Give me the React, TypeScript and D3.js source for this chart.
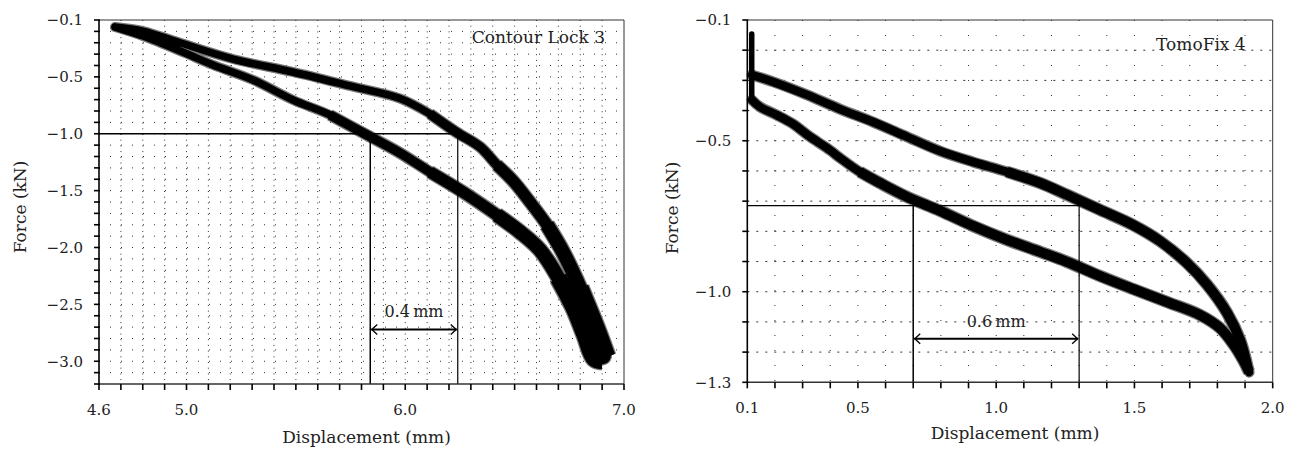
import React from "react";
import * as d3 from "d3";

// ---------- DATA ----------
// Contour Lock 3 (displacement mm, force kN)
const contourLowerBranch: [number, number][] = [
  [4.673, -0.062], [4.801, -0.141], [4.993, -0.29], [5.121, -0.395], [5.304, -0.527],
  [5.487, -0.703], [5.656, -0.835], [5.825, -1.011], [5.976, -1.169], [6.113, -1.336],
  [6.264, -1.512], [6.419, -1.714], [6.525, -1.864], [6.616, -2.022], [6.7, -2.268],
  [6.772, -2.532], [6.822, -2.769], [6.865, -2.975], [6.9, -2.995],
];
const contourUpperBranch: [number, number][] = [
  [4.673, -0.062], [4.801, -0.097], [4.97, -0.2], [5.213, -0.343], [5.485, -0.457],
  [5.747, -0.58], [5.976, -0.69], [6.113, -0.826], [6.232, -0.985], [6.342, -1.116],
  [6.419, -1.275], [6.493, -1.415], [6.57, -1.6], [6.648, -1.802], [6.721, -2.04],
  [6.799, -2.356], [6.877, -2.725], [6.922, -2.96],
];
// TomoFix 4
const tomoSpike: [number, number][] = [[0.116, -0.146], [0.116, -0.365]];
const tomoLowerBranch: [number, number][] = [
  [0.117, -0.365], [0.146, -0.388], [0.207, -0.415], [0.265, -0.444], [0.327, -0.487],
  [0.388, -0.524], [0.446, -0.564], [0.507, -0.603], [0.58, -0.64], [0.678, -0.686],
  [0.797, -0.732], [0.916, -0.782], [1.039, -0.828], [1.159, -0.868], [1.256, -0.901],
  [1.376, -0.948], [1.495, -0.991], [1.618, -1.034], [1.737, -1.077], [1.809, -1.12],
  [1.857, -1.173], [1.893, -1.226], [1.915, -1.266],
];
const tomoUpperBranch: [number, number][] = [
  [0.117, -0.282], [0.194, -0.305], [0.316, -0.348], [0.435, -0.395], [0.555, -0.438],
  [0.678, -0.487], [0.797, -0.534], [0.916, -0.57], [1.039, -0.603], [1.159, -0.64],
  [1.256, -0.679], [1.376, -0.729], [1.495, -0.779], [1.592, -0.832], [1.69, -0.905],
  [1.763, -0.977], [1.835, -1.07], [1.882, -1.16], [1.911, -1.259],
];

// Tick labels
const contourXTickLabels = [4.6, 5.0, 6.0, 7.0];
const contourYTickValues = [0, -0.5, -1.0, -1.5, -2.0, -2.5, -3.0];
const contourYTickLabels = ["−0.1", "−0.5", "−1.0", "−1.5", "−2.0", "−2.5", "−3.0"];
const tomoXTickLabels = [0.1, 0.5, 1.0, 1.5, 2.0];
const tomoYTickValues = [-0.1, -0.5, -1.0, -1.3];
const tomoYTickLabels = ["−0.1", "−0.5", "−1.0", "−1.3"];

// Reference markers
const contourRef = { force: -1.0, x1: 5.84, x2: 6.24, arrowY: -2.72, label: "0.4\u2009mm" };
const tomoRef = { force: -0.715, x1: 0.7, x2: 1.3, arrowY: -1.156, label: "0.6\u2009mm" };

const FONT = "DejaVu Serif";

type Pt = [number, number];

function Panel(props: {
  xDomain: [number, number]; xRange: [number, number];
  yDomain: [number, number]; yRange: [number, number];
  xMinor: number[]; yMinor: number[];
  xLabels: number[]; yValues: number[]; yLabels: string[];
  branches: Pt[][]; spike?: Pt[];
  bands: { below: number; width: number }[];
  ref: { force: number; x1: number; x2: number; arrowY: number; label: string };
  title: string; titleY: number; titleRight: number;
  xTitleY: number; yTitleX: number; yTitleY: number;
  vDash: string; hDash: string; tickOut: number;
}) {
  const p = props;
  const x = d3.scaleLinear().domain(p.xDomain).range(p.xRange);
  const y = d3.scaleLinear().domain(p.yDomain).range(p.yRange);
  const [L, R] = p.xRange;
  const [T, B] = p.yRange;
  const line = d3.line<Pt>().x(d => x(d[0])).y(d => y(d[1])).curve(d3.curveCatmullRom.alpha(0.5));
  const lin = d3.line<Pt>().x(d => x(d[0])).y(d => y(d[1]));
  const ay = y(p.ref.arrowY);
  const ax1 = x(p.ref.x1), ax2 = x(p.ref.x2);
  const ry = y(p.ref.force);
  const fmtX = (v: number) => v.toFixed(1);
  const loop: Pt[] = [...p.branches[0], ...p.branches[1].slice().reverse()];
  const bandPaths = (b: { below: number; width: number }, color: string, extra: number, key: string) => (
    <g key={key}>
      {p.branches.map((br, j) => {
        const sub = br.filter(d => d[1] <= b.below);
        return sub.length > 1 ? (
          <path key={j} d={line(sub) || ""} fill="none" stroke={color} strokeWidth={b.width + extra} strokeLinejoin="round" strokeLinecap="butt" />
        ) : null;
      })}
    </g>
  );
  return (
    <g>
      {/* grid */}
      {p.xMinor.slice(1, -1).map((v, i) => (
        <line key={"gv" + i} x1={x(v)} x2={x(v)} y1={T} y2={B} stroke="#333" strokeWidth={1} strokeDasharray={p.vDash} />
      ))}
      {p.yMinor.slice(1, -1).map((v, i) => (
        <line key={"gh" + i} x1={L} x2={R} y1={y(v)} y2={y(v)} stroke="#333" strokeWidth={1} strokeDasharray={p.hDash} />
      ))}
      {/* frame */}
      <line x1={L} x2={R} y1={T} y2={T} stroke="#333" strokeWidth={1} />
      <line x1={R} x2={R} y1={T} y2={B} stroke="#333" strokeWidth={1} />
      {/* curves: gray halo, then black core, widening bands */}
      <path d={line(loop) || ""} fill="none" stroke="#777" strokeWidth={p.bands[0].width + 2.5} strokeLinejoin="round" strokeLinecap="round" />
      {p.bands.slice(1).map((b, i) => bandPaths(b, "#777", 2.5, "halo" + i))}
      <path d={line(loop) || ""} fill="none" stroke="#000" strokeWidth={p.bands[0].width} strokeLinejoin="round" strokeLinecap="round" />
      {p.bands.slice(1).map((b, i) => bandPaths(b, "#000", 0, "core" + i))}
      {p.spike && (
        <path d={lin(p.spike) || ""} fill="none" stroke="#000" strokeWidth={5.5} strokeLinecap="round" />
      )}
      {/* reference lines */}
      <line x1={L} x2={ax2} y1={ry} y2={ry} stroke="#000" strokeWidth={1.3} />
      <line x1={ax1} x2={ax1} y1={ry} y2={B} stroke="#000" strokeWidth={1.5} />
      <line x1={ax2} x2={ax2} y1={ry} y2={B} stroke="#000" strokeWidth={1.2} />
      <line x1={ax1 + 1} x2={ax2 - 1} y1={ay} y2={ay} stroke="#000" strokeWidth={2} />
      <path d={`M${ax1 + 7},${ay - 5} L${ax1 + 1.5},${ay} L${ax1 + 7},${ay + 5}`} fill="none" stroke="#000" strokeWidth={1.3} />
      <path d={`M${ax2 - 7},${ay - 5} L${ax2 - 1.5},${ay} L${ax2 - 7},${ay + 5}`} fill="none" stroke="#000" strokeWidth={1.3} />
      <text x={(ax1 + ax2) / 2} y={ay - 12} textAnchor="middle" fontFamily={FONT} fontSize={16} fill="#222">{p.ref.label}</text>
      {/* axes */}
      <line x1={L} x2={L} y1={T} y2={B + 0.75} stroke="#000" strokeWidth={1.6} />
      <line x1={L - 0.75} x2={R} y1={B} y2={B} stroke="#333" strokeWidth={1.6} />
      {p.yMinor.map((v, i) => (
        <line key={"yt" + i} x1={L - p.tickOut} x2={L + 1} y1={y(v)} y2={y(v)} stroke="#000" strokeWidth={1.6} />
      ))}
      {p.xMinor.map((v, i) => (
        <line key={"xt" + i} x1={x(v)} x2={x(v)} y1={B} y2={B + p.tickOut + 1} stroke="#000" strokeWidth={1.6} />
      ))}
      {p.yValues.map((v, i) => (
        <text key={"yl" + i} x={L - 16} y={y(v)} dy="0.36em" textAnchor="end" fontFamily={FONT} fontSize={15} fill="#222">{p.yLabels[i]}</text>
      ))}
      {p.xLabels.map((v, i) => (
        <text key={"xl" + i} x={x(v)} y={B + 31} textAnchor="middle" fontFamily={FONT} fontSize={15} fill="#222">{fmtX(v)}</text>
      ))}
      <text x={R - p.titleRight} y={p.titleY} textAnchor="end" fontFamily={FONT} fontSize={17} fill="#222">{p.title}</text>
      <text x={(L + R) / 2 + 5} y={p.xTitleY} textAnchor="middle" fontFamily={FONT} fontSize={17} fill="#222">Displacement (mm)</text>
      <text transform={`translate(${p.yTitleX},${p.yTitleY}) rotate(-90)`} textAnchor="middle" fontFamily={FONT} fontSize={17} fill="#222">Force (kN)</text>
    </g>
  );
}

export default function App() {
  return (
    <svg width={1297} height={452} style={{ position: "absolute", left: 0, top: 0, background: "#fff" }}>
      <rect width={1297} height={452} fill="#fff" />
      <Panel
        xDomain={[4.6, 7.0]} xRange={[99, 624]}
        yDomain={[0, -3.2]} yRange={[20, 384]}
        xMinor={d3.range(0, 25).map(i => 4.6 + i * 0.1)}
        yMinor={d3.range(0, 33).map(i => -i * 0.1)}
        xLabels={contourXTickLabels} yValues={contourYTickValues} yLabels={contourYTickLabels}
        branches={[contourLowerBranch, contourUpperBranch]}
        bands={[{ below: 0, width: 7.5 }, { below: -0.8, width: 9.5 }, { below: -1.25, width: 11.5 }, { below: -1.7, width: 14 }, { below: -2.2, width: 17 }]}
        ref={contourRef}
        title="Contour Lock 3" titleY={43} titleRight={19}
        xTitleY={443} yTitleX={26} yTitleY={207}
        vDash="1,4.7" hDash="1,10" tickOut={5}
      />
      <Panel
        xDomain={[0.1, 2.0]} xRange={[747.3, 1272.7]}
        yDomain={[-0.1, -1.3]} yRange={[20, 382.3]}
        xMinor={d3.range(0, 20).map(i => 0.1 + i * 0.1)}
        yMinor={d3.range(0, 13).map(i => -0.1 - i * 0.1)}
        xLabels={tomoXTickLabels} yValues={tomoYTickValues} yLabels={tomoYTickLabels}
        branches={[tomoLowerBranch, tomoUpperBranch]} spike={tomoSpike}
        bands={[{ below: 0, width: 8.5 }, { below: -0.6, width: 10 }]}
        ref={tomoRef}
        title="TomoFix 4" titleY={50} titleRight={27}
        xTitleY={439} yTitleX={678} yTitleY={208}
        vDash="1,14" hDash="2,7" tickOut={5}
      />
    </svg>
  );
}
